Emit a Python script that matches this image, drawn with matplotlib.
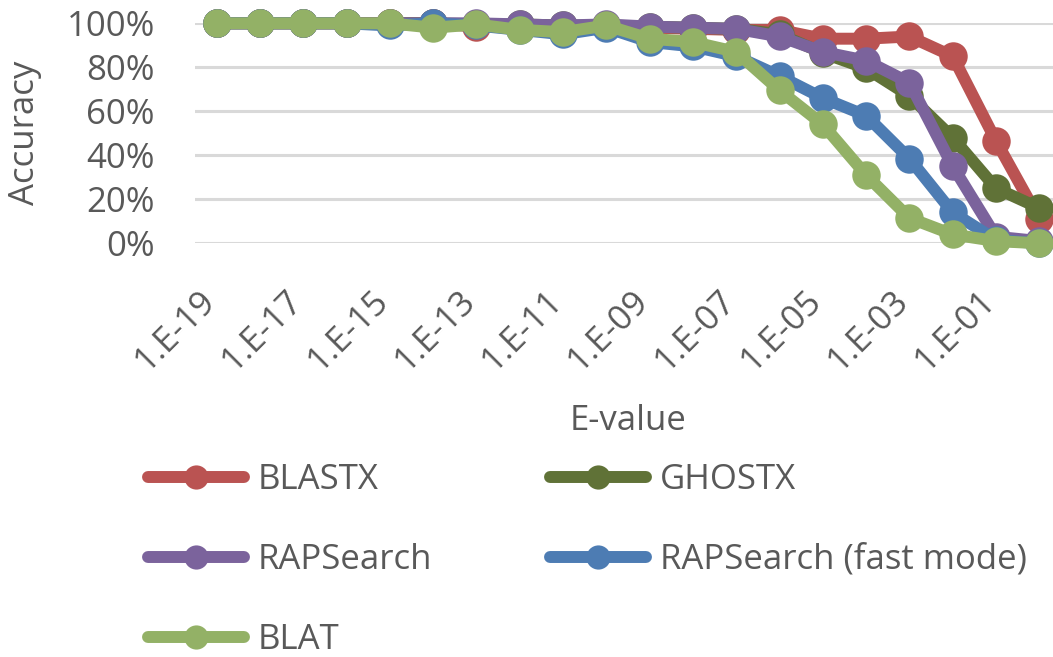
import matplotlib
matplotlib.use("Agg")
import matplotlib.pyplot as plt
from matplotlib.transforms import ScaledTranslation

# E-value thresholds (categorical x axis)
evalues = ["1.E-19", "1.E-18", "1.E-17", "1.E-16", "1.E-15", "1.E-14", "1.E-13",
           "1.E-12", "1.E-11", "1.E-10", "1.E-09", "1.E-08", "1.E-07", "1.E-06",
           "1.E-05", "1.E-04", "1.E-03", "1.E-02", "1.E-01", "1.E+00"]

# Accuracy (%) per tool
blastx = [100, 100, 100, 100, 100, 100, 98.5, 99, 98.5, 99, 98, 97.5, 97, 97, 93, 93, 94, 85, 46.5, 11]
ghostx = [100, 100, 100, 100, 100, 100, 99.5, 99.5, 99, 99, 98.5, 98, 97.5, 95, 86.5, 79.5, 67, 48, 25, 16]
rapsearch = [100, 100, 100, 100, 100, 100, 100, 99.5, 99, 99.5, 98.5, 98, 97.5, 94, 87, 83, 73, 35, 3, 1]
rapsearch_fast = [100, 100, 100, 100, 99, 100, 99, 97, 95, 98, 91.5, 89.5, 85, 76, 66, 58, 38.5, 14, 1.5, 0]
blat = [100, 100, 100, 100, 100, 98, 99.5, 97, 96, 99, 93, 91.5, 87, 69.5, 54, 31, 11.5, 4, 1, 0]

series = [
    ("BLASTX", blastx, "#BA5352"),
    ("GHOSTX", ghostx, "#607237"),
    ("RAPSearch", rapsearch, "#7B639C"),
    ("RAPSearch (fast mode)", rapsearch_fast, "#4D7CB3"),
    ("BLAT", blat, "#93B166"),
]

yticks = [0, 20, 40, 60, 80, 100]
ytick_labels = ["0%", "20%", "40%", "60%", "80%", "100%"]

TEXT = "#595959"
GRID = "#D9D9D9"
FONT = "Open Sans"
FS = 25

plt.rcParams["font.family"] = [FONT, "DejaVu Sans"]

W, H = 1053, 657
fig = plt.figure(figsize=(W / 100, H / 100), dpi=100)
ax = fig.add_axes([195 / W, 1 - 243.3 / H, (1061 - 195) / W, 220 / H])

x = list(range(len(evalues)))
handles = {}
for name, vals, col in series:
    (ln,) = ax.plot(x, vals, color=col, lw=8.6, marker="o", ms=20.5,
                    markeredgewidth=0, solid_capstyle="round",
                    solid_joinstyle="round", clip_on=False, label=name)
    handles[name] = ln

ax.set_xlim(-0.5, len(evalues) - 0.5)
ax.set_ylim(0, 100)
ax.set_yticks(yticks)
ax.set_yticklabels(ytick_labels)
ax.yaxis.grid(True, color=GRID, lw=2.2)
ax.set_axisbelow(True)
for s in ax.spines.values():
    s.set_visible(False)

ax.tick_params(axis="y", length=0, pad=29, labelsize=FS, labelcolor=TEXT)
ax.tick_params(axis="x", length=0, pad=28.8, labelsize=FS, labelcolor=TEXT)

ax.set_xticks(x[::2])
ax.set_xticklabels(evalues[::2], rotation=45, ha="right", va="top")
shift = ScaledTranslation(6 / 100, 0, fig.dpi_scale_trans)
for lab in ax.get_xticklabels():
    lab.set_transform(lab.get_transform() + shift)

fig.text(628 / W, 1 - 421 / H, "E-value", ha="center", va="center",
         fontsize=FS, color=TEXT)
fig.text(25 / W, 1 - 133 / H, "Accuracy", ha="center", va="center",
         rotation=90, fontsize=FS, color=TEXT)

order = ["BLASTX", "RAPSearch", "BLAT", "GHOSTX", "RAPSearch (fast mode)"]
leg = fig.legend([handles[n] for n in order], order, ncol=2,
                 loc="upper left", bbox_to_anchor=(148 / W, 1 - 463 / H),
                 bbox_transform=fig.transFigure, frameon=False,
                 fontsize=FS, borderpad=0, borderaxespad=0,
                 handlelength=2.77, handletextpad=0.40, markerscale=0.85,
                 labelspacing=1.32, columnspacing=3.38)
for t in leg.get_texts():
    t.set_color(TEXT)

fig.savefig("out.png", dpi=100)
